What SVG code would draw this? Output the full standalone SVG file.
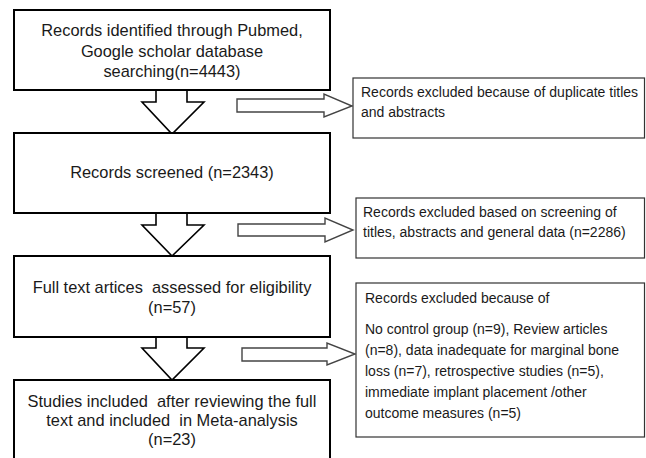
<svg xmlns="http://www.w3.org/2000/svg" width="646" height="458" viewBox="0 0 646 458">
<style>
.main{fill:#fff;stroke:#000;stroke-width:2}
.side{fill:#fff;stroke:#333;stroke-width:1.2}
.arr{fill:#fff;stroke:#000;stroke-width:1.6;stroke-linejoin:miter}
.harr{fill:#fff;stroke:#444;stroke-width:1.4}
.t{font-family:"Liberation Sans",Arial,sans-serif;font-size:16.4px;fill:#1a1a1a;text-anchor:middle;white-space:pre}
.s{font-family:"Liberation Sans",Arial,sans-serif;font-size:14px;fill:#1a1a1a}
</style>
<rect width="646" height="458" fill="#fff"/>
<g id="connectors">
<polygon class="arr" points="156,90 187,90 187,102 204,102 172,134 142,102 156,102"/>
<polygon class="arr" points="156,213 187,213 187,225 204,225 172,256 142,225 156,225"/>
<polygon class="arr" points="156,337 187,337 187,348 204,348 172,380 142,348 156,348"/>
<polygon class="harr" points="237,99 324,99 324,94 352,106 324,117 324,112 237,112"/>
<polygon class="harr" points="238,224 325,224 325,218 353,230 325,242 325,236 238,236"/>
<polygon class="harr" points="242,348 327,348 327,343 355,354 327,365 327,361 242,361"/>
</g>
<g id="n1">
<rect class="main" x="14" y="10" width="316" height="80"/>
<text class="t" x="172" y="36">Records identified through Pubmed,</text>
<text class="t" x="172" y="57">Google scholar database</text>
<text class="t" x="172" y="77">searching(n=4443)</text>
</g>
<g id="n2">
<rect class="main" x="14" y="133" width="316" height="80"/>
<text class="t" x="172" y="178">Records screened (n=2343)</text>
</g>
<g id="n3">
<rect class="main" x="14" y="256" width="316" height="81"/>
<text class="t" x="172" y="293">Full text artices  assessed for eligibility</text>
<text class="t" x="172" y="313">(n=57)</text>
</g>
<g id="n4">
<rect class="main" x="14" y="380" width="316" height="90"/>
<text class="t" x="172" y="407">Studies included  after reviewing the full</text>
<text class="t" x="172" y="426">text and included  in Meta-analysis</text>
<text class="t" x="172" y="445">(n=23)</text>
</g>
<g id="r1">
<rect class="side" x="353" y="78" width="291.5" height="60"/>
<text class="s" x="361" y="97">Records excluded because of duplicate titles</text>
<text class="s" x="361" y="117">and abstracts</text>
</g>
<g id="r2">
<rect class="side" x="356" y="198" width="288.5" height="60"/>
<text class="s" x="363" y="217">Records excluded based on screening of</text>
<text class="s" x="363" y="237">titles, abstracts and general data (n=2286)</text>
</g>
<g id="r3">
<rect class="side" x="356" y="283" width="288.5" height="154"/>
<text class="s" x="365" y="303">Records excluded because of</text>
<text class="s" x="365" y="334">No control group (n=9), Review articles</text>
<text class="s" x="365" y="355">(n=8), data inadequate for marginal bone</text>
<text class="s" x="365" y="376">loss (n=7), retrospective studies (n=5),</text>
<text class="s" x="365" y="397">immediate implant placement /other</text>
<text class="s" x="365" y="418">outcome measures (n=5)</text>
</g>
</svg>
